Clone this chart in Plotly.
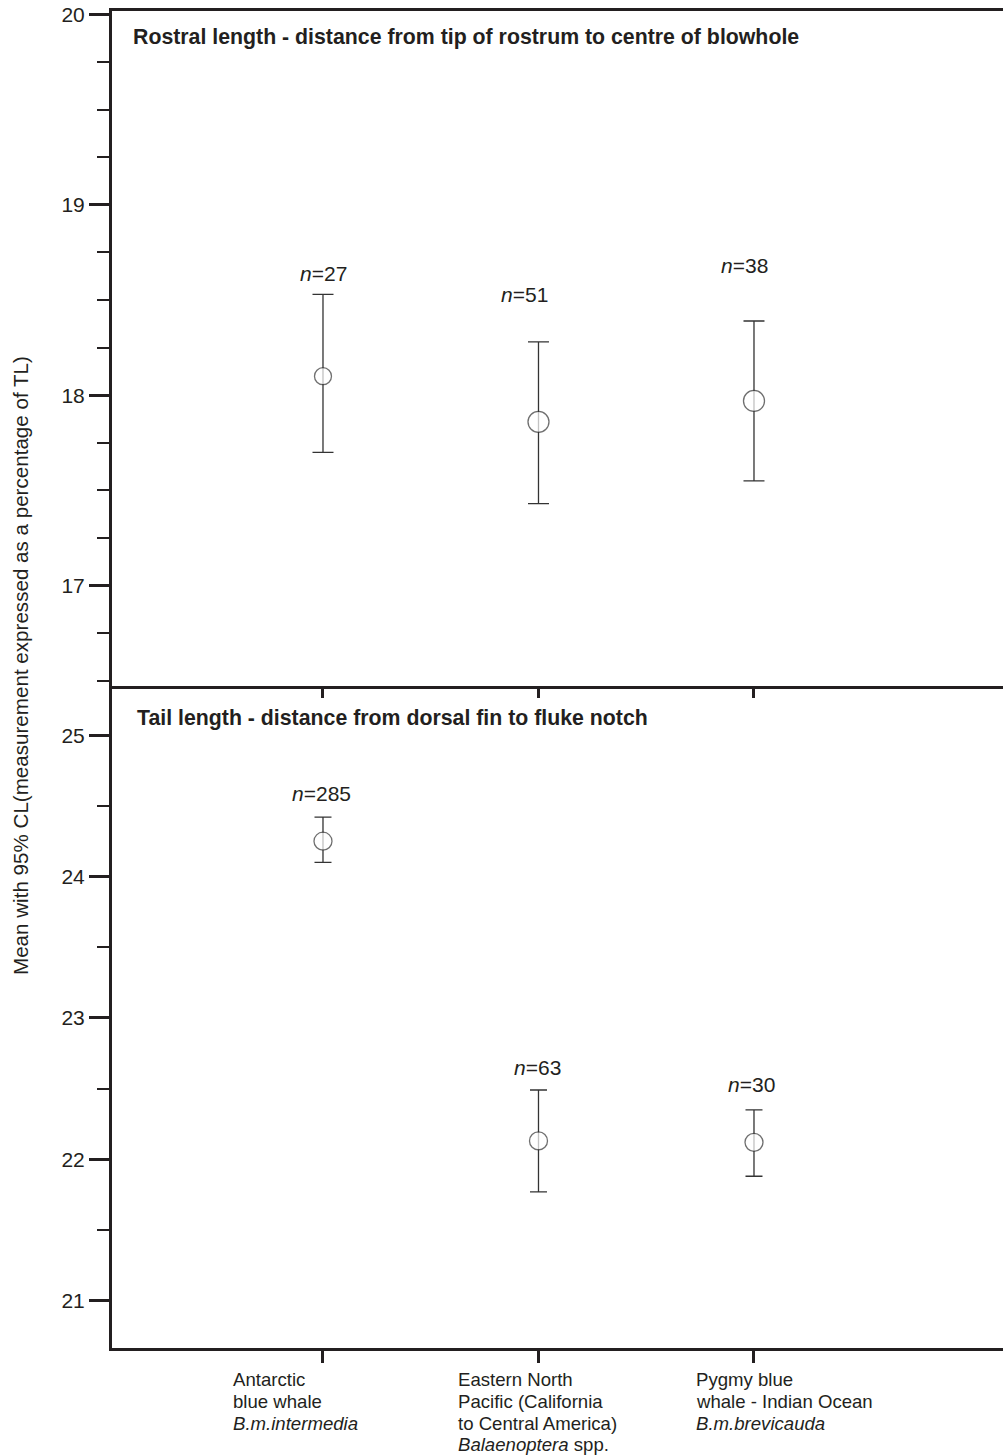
import plotly.graph_objects as go

# ---------------- data ----------------
categories = ["Antarctic blue whale", "Eastern North Pacific", "Pygmy blue whale - Indian Ocean"]
cat_pos = [1, 2, 3]

label_lines = [
    ["Antarctic", "blue whale", "<i>B.m.intermedia</i>"],
    ["Eastern North", "Pacific (California", "to Central America)", "<i>Balaenoptera</i> spp."],
    ["Pygmy blue", "whale - Indian Ocean", "<i>B.m.brevicauda</i>"],
]

rostral_mean = [18.10, 17.86, 17.97]
rostral_upper = [18.53, 18.28, 18.39]
rostral_lower = [17.70, 17.43, 17.55]
rostral_n = [27, 51, 38]
rostral_n_y = [18.64, 18.53, 18.68]

tail_mean = [24.25, 22.13, 22.12]
tail_upper = [24.42, 22.49, 22.35]
tail_lower = [24.10, 21.77, 21.88]
tail_n = [285, 63, 30]
tail_n_y = [24.59, 22.65, 22.53]

title_top = "Rostral length - distance from tip of rostrum to centre of blowhole"
title_bottom = "Tail length - distance from dorsal fin to fluke notch"
y_title = "Mean with 95% CL(measurement expressed as a percentage of TL)"

# ---------------- style ----------------
INK = "#231f20"
FONT = "Liberation Sans, Arial, Helvetica, sans-serif"
W, H = 1003, 1455
PLOT_LEFT, PLOT_TOP, PLOT_BOTTOM, PLOT_SPLIT = 112, 11, 1348, 686
ML, MT, MB, MR = PLOT_LEFT, PLOT_TOP, H - PLOT_BOTTOM, 0
plot_h = H - MT - MB
split = (PLOT_BOTTOM - PLOT_SPLIT) / plot_h

x_range = [0.0209, 4.1555]
y_range_top = [16.472, 20.019]
y_range_bottom = [20.665, 25.348]

fig = go.Figure()


def add_panel(mean, upper, lower, xa, ya, sizes, capw):
    fig.add_trace(go.Scatter(
        x=cat_pos, y=mean, mode="markers", xaxis=xa, yaxis=ya,
        error_y=dict(type="data", symmetric=False,
                     array=[u - m for u, m in zip(upper, mean)],
                     arrayminus=[m - l for m, l in zip(mean, lower)],
                     color="#333333", thickness=1.3, width=capw),
        marker=dict(symbol="circle", size=sizes, color="white",
                    line=dict(color="#333333", width=1.3)),
        hoverinfo="skip",
    ))


add_panel(rostral_mean, rostral_upper, rostral_lower, "x", "y", [17, 21, 21], 10.5)
add_panel(tail_mean, tail_upper, tail_lower, "x2", "y2", [18, 18, 18], 8.5)

annotations = []
# n labels
n_shift_top = [1, -14, -9]
for x, n, yv, dx in zip(cat_pos, rostral_n, rostral_n_y, n_shift_top):
    annotations.append(dict(x=x, y=yv, xref="x", yref="y", text=f"<i>n</i>={n}",
                            showarrow=False, xshift=dx,
                            font=dict(size=21, color=INK, family=FONT)))
n_shift_bot = [-1, -1, -2]
for x, n, yv, dx in zip(cat_pos, tail_n, tail_n_y, n_shift_bot):
    annotations.append(dict(x=x, y=yv, xref="x2", yref="y2", text=f"<i>n</i>={n}",
                            showarrow=False, xshift=dx,
                            font=dict(size=21, color=INK, family=FONT)))

# panel titles
annotations.append(dict(x=0, y=1, xref="paper", yref="paper", text=f"<b>{title_top}</b>",
                        xanchor="left", yanchor="middle", xshift=131 - PLOT_LEFT,
                        yshift=-(37 - PLOT_TOP),
                        showarrow=False, font=dict(size=21.3, color=INK, family=FONT)))
annotations.append(dict(x=0, y=split, xref="paper", yref="paper", text=f"<b>{title_bottom}</b>",
                        xanchor="left", yanchor="middle", xshift=135 - PLOT_LEFT,
                        yshift=-(718 - PLOT_SPLIT),
                        showarrow=False, font=dict(size=21.3, color=INK, family=FONT)))

# category labels (left aligned multi-line under the ticks)
left_shift = [-92, -82, -60]
line_px = [1379, 1401, 1423, 1444]
for x, lines, dx in zip(cat_pos, label_lines, left_shift):
    for i, t in enumerate(lines):
        annotations.append(dict(x=x, y=0, xref="x2", yref="paper", text=t,
                                xanchor="left", yanchor="middle", xshift=dx,
                                yshift=-(line_px[i] - PLOT_BOTTOM), showarrow=False,
                                font=dict(size=18.6, color=INK, family=FONT)))

# y axis title
annotations.append(dict(x=0, y=(PLOT_BOTTOM - 666) / plot_h, xref="paper", yref="paper",
                        text=y_title, textangle=-90, xanchor="center", yanchor="middle",
                        xshift=-(PLOT_LEFT - 20), showarrow=False,
                        font=dict(size=20.6, color=INK, family=FONT)))

common_x = dict(range=x_range, tickvals=cat_pos, showticklabels=False, ticks="outside",
                tickwidth=2.5, tickcolor=INK, showline=True, linecolor=INK, linewidth=2.5,
                showgrid=False, zeroline=False, fixedrange=True)
common_y = dict(tick0=0, dtick=1, ticks="outside", ticklen=20, tickwidth=2.5, tickcolor=INK,
                showline=True, linecolor=INK, linewidth=3, showgrid=False, zeroline=False,
                fixedrange=True, tickfont=dict(size=21, color=INK, family=FONT))

fig.update_layout(
    width=W, height=H,
    margin=dict(l=ML, r=MR, t=MT, b=MB),
    paper_bgcolor="white", plot_bgcolor="white",
    showlegend=False,
    font=dict(family=FONT, color=INK),
    xaxis=dict(domain=[0, 1], anchor="y", ticklen=9, mirror=True, **common_x),
    xaxis2=dict(domain=[0, 1], anchor="y2", ticklen=12, **common_x),
    yaxis=dict(domain=[split, 1], anchor="x", range=y_range_top,
               minor=dict(dtick=0.25, tick0=0, ticks="outside", ticklen=12, tickwidth=2, tickcolor=INK),
               **common_y),
    yaxis2=dict(domain=[0, split], anchor="x2", range=y_range_bottom,
                minor=dict(dtick=0.5, tick0=0, ticks="outside", ticklen=12, tickwidth=2, tickcolor=INK),
                **common_y),
    annotations=annotations,
)

fig.write_html("out.html", config={"displayModeBar": False},
               post_script="document.body.style.margin='0';document.body.style.overflow='hidden';")
